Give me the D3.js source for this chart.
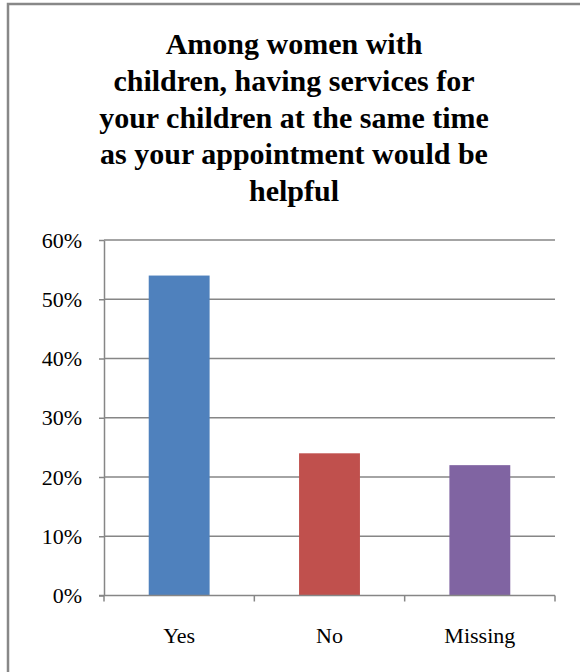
<!DOCTYPE html>
<html>
<head>
<meta charset="utf-8">
<script src="https://cdn.jsdelivr.net/npm/d3@7"></script>
<style>
  html, body { margin: 0; padding: 0; background: #fff; }
  svg { display: block; }
  svg text { font-family: "Liberation Serif", "Times New Roman", Tinos, "DejaVu Serif", serif; }
</style>
</head>
<body>
<svg id="chart" width="580" height="672"></svg>
<script>
// Survey responses: share of women with children
const categories = ["Yes", "No", "Missing"];
const values = [0.54, 0.24, 0.22];
const barColors = ["#4F81BD", "#C0504D", "#8064A2"];
const yTicks = [0, 0.1, 0.2, 0.3, 0.4, 0.5, 0.6];
const titleLines = [
  "Among women with",
  "children, having services for",
  "your children at the same time",
  "as your appointment would be",
  "helpful"
];

const svg = d3.select("#chart");
const plot = { left: 104, right: 555, top: 240, bottom: 595.5 };
const gridColor = "#868686";

// outer frame (runs off the right and bottom edges)
svg.append("rect")
  .attr("x", 8).attr("y", 4)
  .attr("width", 700).attr("height", 800)
  .attr("fill", "none")
  .attr("stroke", "#888")
  .attr("stroke-width", 2.5);

// title
svg.append("g")
  .selectAll("text")
  .data(titleLines)
  .join("text")
  .attr("x", 294)
  .attr("y", (d, i) => 54 + i * 36.8)
  .attr("text-anchor", "middle")
  .attr("font-weight", "bold")
  .attr("font-size", 30)
  .attr("fill", "#000")
  .text(d => d);

const x = d3.scaleBand()
  .domain(categories)
  .range([plot.left, plot.right])
  .paddingInner(0.595)
  .paddingOuter(0.2975);

const y = d3.scaleLinear()
  .domain([0, 0.6])
  .range([plot.bottom, plot.top]);

// horizontal gridlines
svg.append("g")
  .selectAll("line")
  .data(yTicks.filter(t => t > 0))
  .join("line")
  .attr("x1", plot.left).attr("x2", plot.right)
  .attr("y1", d => y(d)).attr("y2", d => y(d))
  .attr("stroke", gridColor)
  .attr("stroke-width", 1.5);

// bars
svg.append("g")
  .selectAll("rect")
  .data(categories)
  .join("rect")
  .attr("x", d => x(d))
  .attr("width", x.bandwidth())
  .attr("y", (d, i) => y(values[i]))
  .attr("height", (d, i) => y(0) - y(values[i]))
  .attr("fill", (d, i) => barColors[i]);

// y axis
const yAxis = svg.append("g")
  .attr("transform", `translate(${plot.left},0)`)
  .call(d3.axisLeft(y)
    .tickValues(yTicks)
    .tickFormat(d3.format(".0%"))
    .tickSize(5)
    .tickSizeOuter(0)
    .tickPadding(17));
yAxis.attr("font-family", null);
yAxis.selectAll("path, line").attr("stroke", gridColor).attr("stroke-width", 1.5);
yAxis.selectAll("text")
  .attr("font-size", 22)
  .attr("fill", "#000");

// x axis with ticks at category boundaries
const xAxis = svg.append("g")
  .attr("transform", `translate(0,${plot.bottom})`);
xAxis.append("line")
  .attr("x1", plot.left - 5).attr("x2", plot.right)
  .attr("stroke", gridColor).attr("stroke-width", 1.5);
const step = x.step();
xAxis.selectAll("line.tick")
  .data(d3.range(categories.length + 1))
  .join("line")
  .attr("class", "tick")
  .attr("x1", i => plot.left + i * step).attr("x2", i => plot.left + i * step)
  .attr("y1", 0).attr("y2", 6)
  .attr("stroke", gridColor).attr("stroke-width", 1.5);
xAxis.selectAll("text")
  .data(categories)
  .join("text")
  .attr("x", d => x(d) + x.bandwidth() / 2)
  .attr("y", 47)
  .attr("text-anchor", "middle")
  .attr("font-size", 22)
  .attr("fill", "#000")
  .text(d => d);
</script>
</body>
</html>
